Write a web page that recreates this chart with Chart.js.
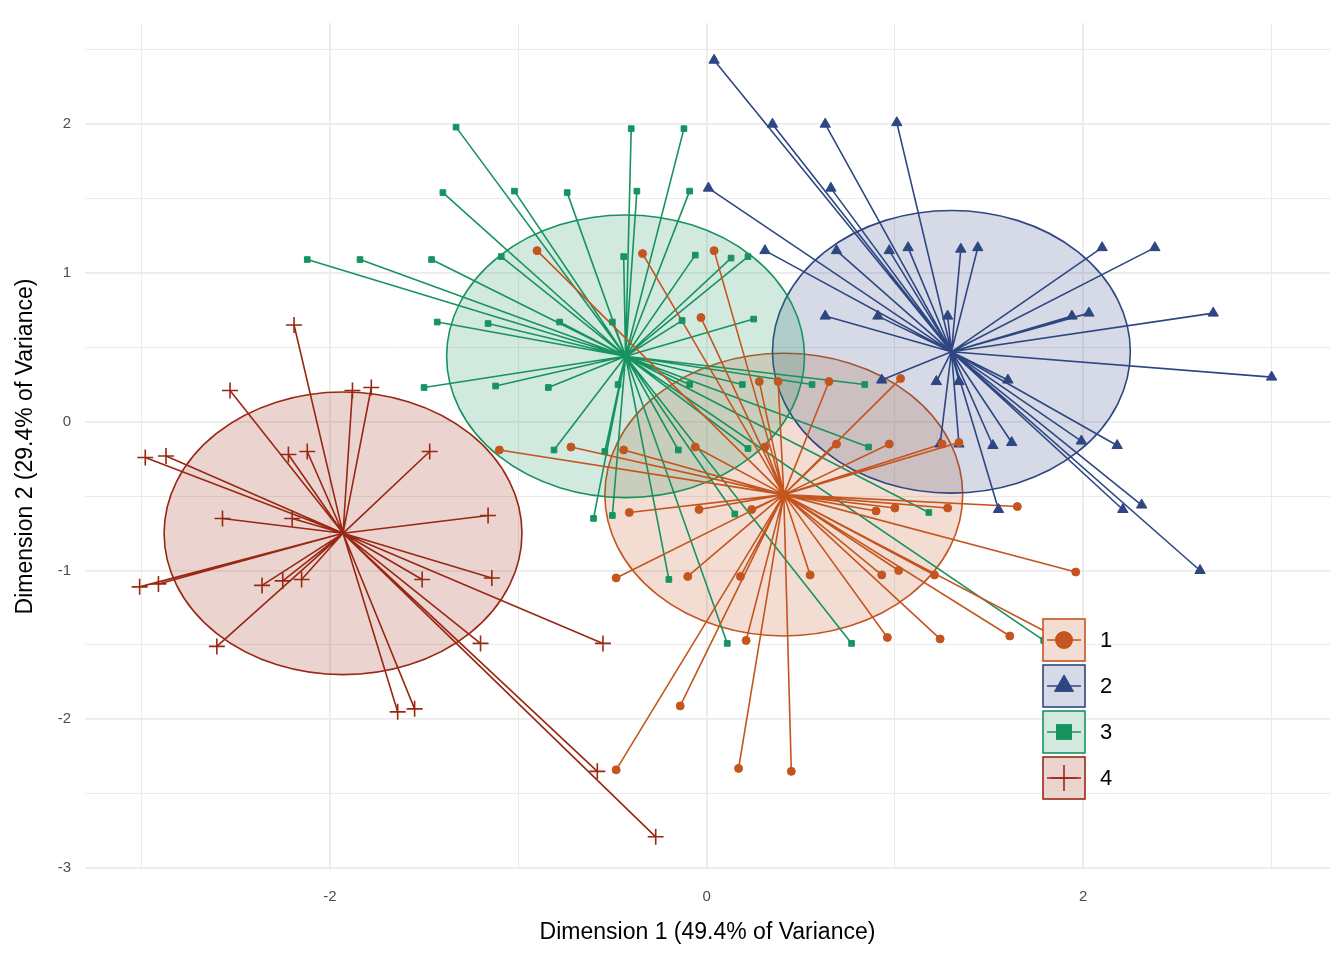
<!DOCTYPE html>
<html>
<head>
<meta charset="utf-8">
<script src="https://cdn.jsdelivr.net/npm/chart.js@4.4.1/dist/chart.umd.min.js"></script>
<style>
  html, body { margin: 0; padding: 0; background: #fff; }
  #wrap { width: 1344px; height: 960px; }
</style>
</head>
<body>
<div id="wrap"><canvas id="mdsChart"></canvas></div>
<script>
// cluster labels, colours, centroids and ellipse radius (data units)
const groupLabels = ['1', '2', '3', '4'];
const groupColors = ['#C4551F', '#2E4682', '#17935F', '#992712'];
const groupStyles = ['circle', 'triangle', 'rect', 'cross'];
const centroidX = [0.41, 1.30, -0.43, -1.93];
const centroidY = [-0.49, 0.47, 0.44, -0.75];
const ellipseRx = [0.95, 0.95, 0.95, 0.95];
const ellipseRy = [0.95, 0.95, 0.95, 0.95];

// observations per cluster
const g1x = [-0.90, -0.34, 0.04, -0.03, 0.28, 0.38, 0.65, 1.03, -1.10, -0.72, -0.44, -0.06, 0.31, 0.69, 0.97, 1.25, 1.34,
  -0.41, -0.04, 0.24, 0.90, 1.00, 1.28, 1.65, -0.48, -0.10, 0.18, 0.55, 0.93, 1.02, 1.21, 1.96, 0.21, 0.96, 1.24, 1.61, 1.89,
  -0.14, -0.48, 0.17, 0.45];
const g1y = [1.15, 1.13, 1.15, 0.70, 0.27, 0.27, 0.27, 0.29, -0.19, -0.17, -0.19, -0.17, -0.17, -0.15, -0.15, -0.15, -0.14,
  -0.61, -0.59, -0.59, -0.60, -0.58, -0.58, -0.57, -1.05, -1.04, -1.04, -1.03, -1.03, -1.00, -1.03, -1.01, -1.47, -1.45, -1.46, -1.44, -1.47,
  -1.91, -2.34, -2.33, -2.35];
const g2x = [0.04, 0.35, 0.63, 1.01, 0.01, 0.66, 0.31, 0.69, 0.97, 1.07, 1.35, 1.44, 2.10, 2.38, 0.63, 0.91, 1.28, 1.94, 2.03, 2.69,
  3.00, 0.93, 1.22, 1.34, 1.60, 1.24, 1.34, 1.52, 1.62, 1.99, 2.18, 1.55, 2.21, 2.31, 2.62];
const g2y = [2.43, 2.00, 2.00, 2.01, 1.57, 1.57, 1.15, 1.15, 1.15, 1.17, 1.16, 1.17, 1.17, 1.17, 0.71, 0.71, 0.71, 0.71, 0.73, 0.73,
  0.30, 0.28, 0.27, 0.27, 0.28, -0.15, -0.15, -0.16, -0.14, -0.13, -0.16, -0.59, -0.59, -0.56, -1.00];
const g3x = [-1.33, -0.40, -0.12, -1.40, -1.02, -0.74, -0.37, -0.09, -2.12, -1.84, -1.46, -1.09, -0.44, -0.06, 0.13, 0.22,
  -1.43, -1.16, -0.78, -0.50, -0.13, 0.25, -1.50, -1.12, -0.84, -0.47, -0.09, 0.19, 0.56, 0.84,
  -0.81, -0.54, -0.15, 0.22, 0.86, -0.60, -0.50, 0.15, 1.18, -0.20, 0.11, 0.77, 1.79];
const g3y = [1.98, 1.97, 1.97, 1.54, 1.55, 1.54, 1.55, 1.55, 1.09, 1.09, 1.09, 1.11, 1.11, 1.12, 1.10, 1.11,
  0.67, 0.66, 0.67, 0.67, 0.68, 0.69, 0.23, 0.24, 0.23, 0.25, 0.25, 0.25, 0.25, 0.25,
  -0.19, -0.20, -0.19, -0.18, -0.17, -0.65, -0.63, -0.62, -0.61, -1.06, -1.49, -1.49, -1.47];
const g4x = [-2.19, -2.53, -1.88, -1.78, -2.98, -2.87, -2.22, -2.12, -1.47, -2.57, -2.20, -1.16, -3.01, -2.91, -2.36, -2.25,
  -2.15, -1.51, -1.14, -2.60, -1.20, -0.55, -1.64, -1.55, -0.58, -0.27];
const g4y = [0.65, 0.21, 0.21, 0.23, -0.24, -0.23, -0.22, -0.20, -0.20, -0.65, -0.65, -0.63, -1.11, -1.09, -1.10, -1.07,
  -1.06, -1.06, -1.05, -1.51, -1.49, -1.49, -1.95, -1.93, -2.35, -2.79];

const xsAll = [g1x, g2x, g3x, g4x];
const ysAll = [g1y, g2y, g3y, g4y];

function alpha(hex, a) {
    const n = parseInt(hex.slice(1), 16);
    return 'rgba(' + (n >> 16) + ',' + ((n >> 8) & 255) + ',' + (n & 255) + ',' + a + ')';
}

// spokes: centroid -> point, separated by gaps
const datasets = [];
groupLabels.forEach(function (lab, g) {
    const seg = [];
    xsAll[g].forEach(function (x, i) {
        seg.push({ x: centroidX[g], y: centroidY[g] });
        seg.push({ x: x, y: ysAll[g][i] });
        seg.push({ x: x, y: null });
    });
    datasets.push({
        type: 'line', data: seg, borderColor: groupColors[g], borderWidth: 1.6,
        pointRadius: 0, spanGaps: false, fill: false, order: 2
    });
});
groupLabels.forEach(function (lab, g) {
    datasets.push({
        type: 'scatter', label: lab,
        data: xsAll[g].map(function (x, i) { return { x: x, y: ysAll[g][i] }; }),
        pointStyle: groupStyles[g],
        pointRadius: g === 3 ? 8 : (g === 1 ? 6 : 4),
        backgroundColor: groupColors[g], borderColor: groupColors[g],
        borderWidth: g === 3 ? 1.6 : 1, order: 1
    });
});

// ellipses under everything, legend on top
const ellipsePlugin = {
    id: 'ellipses',
    beforeDatasetsDraw: function (chart) {
        const ctx = chart.ctx, xs = chart.scales.x, ys = chart.scales.y;
        groupLabels.forEach(function (lab, g) {
            const cx = xs.getPixelForValue(centroidX[g]);
            const cy = ys.getPixelForValue(centroidY[g]);
            const rx = Math.abs(xs.getPixelForValue(centroidX[g] + ellipseRx[g]) - cx);
            const ry = Math.abs(ys.getPixelForValue(centroidY[g] + ellipseRy[g]) - cy);
            ctx.save();
            ctx.beginPath();
            ctx.ellipse(cx, cy, rx, ry, 0, 0, Math.PI * 2);
            ctx.fillStyle = alpha(groupColors[g], 0.2);
            ctx.fill();
            ctx.lineWidth = 1.6;
            ctx.strokeStyle = groupColors[g];
            ctx.stroke();
            ctx.restore();
        });
    },
    afterDraw: function (chart) {
        const ctx = chart.ctx;
        const left = 1043, top = 619, size = 42, gap = 46;
        groupLabels.forEach(function (lab, g) {
            const y0 = top + g * gap;
            ctx.save();
            ctx.fillStyle = '#fff';
            ctx.fillRect(left, y0, size, size);
            ctx.fillStyle = alpha(groupColors[g], 0.2);
            ctx.strokeStyle = groupColors[g];
            ctx.lineWidth = 1.6;
            ctx.fillRect(left, y0, size, size);
            ctx.strokeRect(left, y0, size, size);
            ctx.beginPath();
            ctx.moveTo(left + 4, y0 + size / 2);
            ctx.lineTo(left + size - 4, y0 + size / 2);
            ctx.stroke();
            const r = g === 3 ? 13 : (g === 0 ? 8 : 10);
            Chart.helpers.drawPoint(ctx, {
                pointStyle: groupStyles[g], radius: r, rotation: 0, borderWidth: 1.6
            }, left + size / 2, y0 + size / 2);
            ctx.fillStyle = groupColors[g];
            ctx.beginPath();
            if (groupStyles[g] !== 'cross') {
                Chart.helpers.drawPoint(ctx, { pointStyle: groupStyles[g], radius: r, rotation: 0, borderWidth: 1 },
                    left + size / 2, y0 + size / 2);
                ctx.fill();
            }
            ctx.fillStyle = '#000';
            ctx.font = '22px "Liberation Sans", Arial, sans-serif';
            ctx.textBaseline = 'middle';
            ctx.fillText(lab, left + 57, y0 + size / 2 + 1);
            ctx.restore();
        });
    }
};

const tickFont = { family: '"Liberation Sans", Arial, sans-serif', size: 15 };
const titleFont = { family: '"Liberation Sans", Arial, sans-serif', size: 23 };

new Chart(document.getElementById('mdsChart'), {
    data: { datasets: datasets },
    plugins: [ellipsePlugin],
    options: {
        responsive: true, maintainAspectRatio: false, animation: false,
        layout: { padding: { top: 9, right: 14, left: 8, bottom: 0 } },
        plugins: { legend: { display: false }, tooltip: { enabled: false } },
        scales: {
            x: {
                type: 'linear', min: -3.3, max: 3.31,
                afterBuildTicks: function (s) { s.ticks = [-3, -2, -1, 0, 1, 2, 3].map(function (v) { return { value: v }; }); },
                afterFit: function (s) { s.height = 90; },
                border: { display: false },
                grid: {
                    color: '#EBEBEB', drawTicks: false,
                    lineWidth: function (c) { return c.tick && c.tick.value % 2 === 0 ? 1.8 : 1; }
                },
                ticks: {
                    color: '#4D4D4D', font: tickFont, padding: 18, autoSkip: false, maxRotation: 0,
                    callback: function (v) { return v % 2 === 0 ? v : ''; }
                },
                title: { display: true, text: 'Dimension 1 (49.4% of Variance)', color: '#000', font: titleFont, padding: { top: 0, bottom: 14 } }
            },
            y: {
                type: 'linear', min: -3.013, max: 2.68,
                afterBuildTicks: function (s) {
                    const t = [];
                    for (let v = -3; v <= 2.5; v += 0.5) t.push({ value: v });
                    s.ticks = t;
                },
                afterFit: function (s) { s.width = 77; },
                border: { display: false },
                grid: {
                    color: '#EBEBEB', drawTicks: false,
                    lineWidth: function (c) { return c.tick && Number.isInteger(c.tick.value) ? 1.8 : 1; }
                },
                ticks: {
                    color: '#4D4D4D', font: tickFont, padding: 14, autoSkip: false,
                    callback: function (v) { return Number.isInteger(v) ? v : ''; }
                },
                title: { display: true, text: 'Dimension 2 (29.4% of Variance)', color: '#000', font: titleFont }
            }
        }
    }
});
</script>
</body>
</html>
